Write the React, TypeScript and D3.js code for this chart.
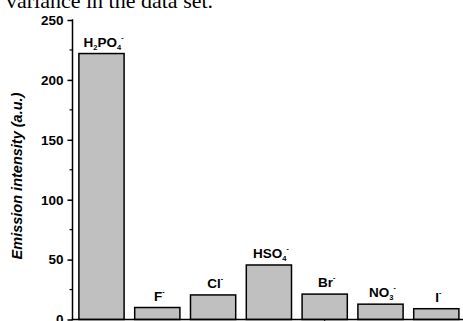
import React, { useEffect, useRef } from 'react';
import * as d3 from 'd3';

// anion labels: [text, kind] pairs, each ends with a superscript "-"
const anions = ['H2PO4', 'F', 'Cl', 'HSO4', 'Br', 'NO3', 'I'];
const labelParts: [string, string][][] = [
  [['H', ''], ['2', 'sub'], ['PO', ''], ['4', 'sub']],
  [['F', '']],
  [['Cl', '']],
  [['HSO', ''], ['4', 'sub']],
  [['Br', '']],
  [['NO', ''], ['3', 'sub']],
  [['I', '']],
];
const intensity = [222, 10, 20.5, 45.5, 21.2, 12.8, 9];
const yTicks = [0, 50, 100, 150, 200, 250];
const yMinor = [25, 75, 125, 175, 225];
const caption = 'variance in the data set.';

const W = 463;
const H = 321;

export default function App() {
  const ref = useRef<SVGSVGElement>(null);

  useEffect(() => {
    const svg = d3.select(ref.current);
    svg.selectAll('*').remove();

    const x0 = 72.5;
    const yBase = 319.5;
    const y = d3.scaleLinear().domain([0, 250]).range([yBase, 20]);
    const x = d3.scaleBand<string>()
      .domain(anions)
      .range([73.6, 464.2])
      .paddingInner(0.19)
      .paddingOuter(0.095);

    // clipped caption from the page above
    svg.append('text')
      .attr('x', 6)
      .attr('y', 8)
      .attr('font-family', '"Liberation Serif", "Times New Roman", serif')
      .attr('font-size', 22)
      .attr('fill', '#000')
      .text(caption);

    // bars
    svg.append('g')
      .selectAll('rect')
      .data(intensity)
      .enter().append('rect')
        .attr('x', (d, i) => x(anions[i])!)
        .attr('y', d => y(d))
        .attr('width', x.bandwidth())
        .attr('height', d => yBase - y(d))
        .attr('fill', '#c0c0c0')
        .attr('stroke', '#000')
        .attr('stroke-width', 1.5);

    // bar labels
    const labels = svg.append('g')
      .attr('font-family', '"Liberation Sans", Arial, sans-serif')
      .attr('font-weight', 'bold')
      .attr('font-size', 13.5)
      .attr('text-anchor', 'middle');
    intensity.forEach((d, i) => {
      const t = labels.append('text')
        .attr('x', x(anions[i])! + x.bandwidth() / 2 + 2)
        .attr('y', y(d) - 7);
      let sub = false;
      labelParts[i].forEach(([s, kind]) => {
        const span = t.append('tspan').text(s);
        if (kind === 'sub') {
          span.attr('font-size', 7.5).attr('dy', sub ? 0 : 3);
          sub = true;
        } else {
          if (sub) span.attr('dy', -3);
          sub = false;
        }
      });
      t.append('tspan')
        .attr('font-size', 7)
        .attr('dy', sub ? -10 : -7)
        .text('-');
    });

    // y axis
    const yAxis = d3.axisLeft(y).tickValues(yTicks).tickSize(5).tickPadding(4);
    const gy = svg.append('g')
      .attr('transform', `translate(${x0},0)`)
      .call(yAxis);
    gy.select('.domain').remove();
    gy.selectAll('line').attr('stroke-width', 1.5);
    gy.selectAll('text')
      .attr('font-family', '"Liberation Sans", Arial, sans-serif')
      .attr('font-weight', 'bold')
      .attr('font-size', 13.5)
      .attr('fill', '#000');
    svg.append('g')
      .selectAll('line')
      .data(yMinor)
      .enter().append('line')
        .attr('x1', x0 - 3)
        .attr('x2', x0)
        .attr('y1', d => y(d))
        .attr('y2', d => y(d))
        .attr('stroke', '#000')
        .attr('stroke-width', 1.2);
    svg.append('line')
      .attr('x1', x0).attr('x2', x0)
      .attr('y1', y(250) - 0.75).attr('y2', yBase + 0.75)
      .attr('stroke', '#000').attr('stroke-width', 1.5);

    // x axis
    svg.append('line')
      .attr('x1', x0 - 0.75).attr('x2', W)
      .attr('y1', yBase).attr('y2', yBase)
      .attr('stroke', '#000').attr('stroke-width', 1.5);
    svg.append('line')
      .attr('x1', x('Br')! + x.bandwidth() / 2)
      .attr('x2', x('Br')! + x.bandwidth() / 2)
      .attr('y1', yBase).attr('y2', yBase + 4)
      .attr('stroke', '#000').attr('stroke-width', 1);

    // y title
    svg.append('text')
      .attr('transform', `translate(22,176) rotate(-90)`)
      .attr('text-anchor', 'middle')
      .attr('font-family', '"Liberation Sans", Arial, sans-serif')
      .attr('font-weight', 'bold')
      .attr('font-style', 'italic')
      .attr('font-size', 14.5)
      .text('Emission intensity (a.u.)');
  }, []);

  return (
    <svg
      ref={ref}
      width={W}
      height={H}
      style={{ position: 'absolute', left: 0, top: 0, background: '#fff' }}
    />
  );
}
